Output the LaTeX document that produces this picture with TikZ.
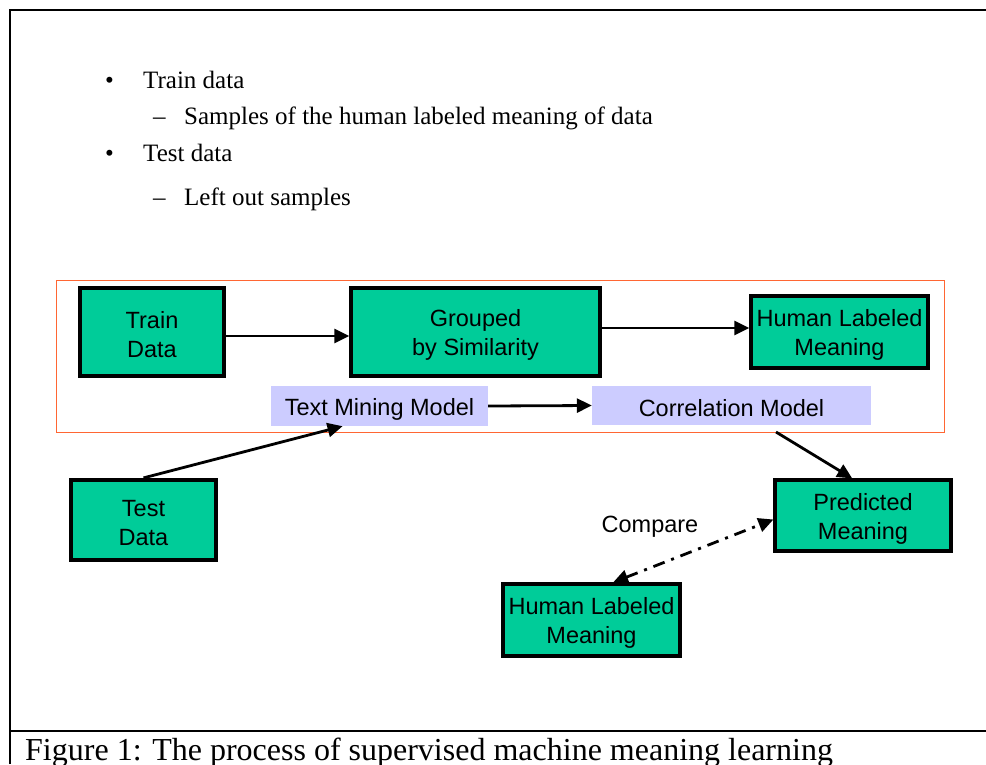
\documentclass[tikz,border=0pt]{standalone}
\usepackage{fontspec}
\setmainfont{Liberation Serif}
\setsansfont{Liberation Sans}
\usetikzlibrary{arrows.meta,calc}
\definecolor{boxgreen}{RGB}{0,204,153}
\definecolor{lav}{RGB}{204,204,255}
\definecolor{redframe}{RGB}{255,102,51}
\newcommand{\tup}{\rule{0pt}{23pt}}
\tikzset{
  sansfont/.style={font=\sffamily\fontsize{23.5}{29}\selectfont},
  gbox/.style={draw=black,fill=boxgreen,inner sep=0pt,align=center,sansfont},
  lbox/.style={fill=lav,inner sep=0pt,align=center,sansfont},
  arr/.style={line width=2.8pt,-{Triangle[length=15pt,width=14pt]}},
  darr/.style={line width=2.8pt,{Triangle[length=15pt,width=14pt]}-{Triangle[length=15pt,width=14pt]},
    dash pattern=on 12pt off 7pt on 3pt off 7pt},
  btext/.style={anchor=base west,inner sep=0pt,font=\rmfamily\fontsize{25}{30}\selectfont},
}
\begin{document}
\begin{tikzpicture}[x=1pt,y=-1pt]
\useasboundingbox (0,0) rectangle (986,764);
% frame
\draw[line width=2.3pt] (10,764) -- (10,10) -- (986,10);
\draw[line width=2.3pt] (10,731) -- (986,731);
\node[btext] (cap) at (25,760) {\fontsize{32}{36}\selectfont Figure 1: The process of supervised machine meaning learning};
% bullets
\node[btext] (b1) at (105,88) {•};
\node[btext] (t1) at (143,88) {Train data};
\node[btext] (d1) at (153,124) {–};
\node[btext] (t2) at (184,124) {Samples of the human labeled meaning of data};
\node[btext] (b2) at (105,161) {•};
\node[btext] (t3) at (143,161) {Test data};
\node[btext] (d2) at (153,205.5) {–};
\node[btext] (t4) at (184,205.5) {Left out samples};
% red frame
\draw[redframe,line width=1pt] (56,280) rectangle (944,432);
% boxes
\node[gbox,line width=4.2pt,minimum width=144pt,minimum height=88pt] (td) at (152,332) {\tup Train\\Data};
\node[gbox,line width=3.2pt,minimum width=249pt,minimum height=88pt] (grp) at (475.5,332) {\tup Grouped\\by Similarity};
\node[gbox,line width=3.2pt,minimum width=177pt,minimum height=72pt] (hl) at (839.5,332) {\tup Human Labeled\\Meaning};
\node[lbox,minimum width=217pt,minimum height=40pt] (tm) at (379.5,406) {\tup Text Mining Model};
\node[lbox,minimum width=279pt,minimum height=39pt] (cm) at (731.5,405.5) {\tup Correlation Model};
\node[gbox,line width=4.2pt,minimum width=145pt,minimum height=80pt] (test) at (143.5,520) {\tup Test\\Data};
\node[gbox,line width=3.2pt,minimum width=176pt,minimum height=71pt] (pred) at (863,515.5) {\tup Predicted\\Meaning};
\node[gbox,line width=3.2pt,minimum width=177pt,minimum height=72pt] (hb) at (591.5,620) {\tup Human Labeled\\Meaning};
\node[inner sep=0pt,sansfont] (cmp) at (650,523) {\tup Compare};
% connectors
\draw[arr] ([yshift=-4pt]td.east) -- ([yshift=-4pt]grp.west);
\draw[arr] ([yshift=4pt]grp.east) -- ([yshift=4pt]hl.west);
\draw[arr] (tm.east) -- (cm.west);
\draw[arr] (test.north) -- ($(tm.south west)!0.33!(tm.south east)$);
\coordinate (c1) at (776,432);
\draw[arr] (c1) -- ($(pred.north west)!0.44!(pred.north east)$);
\draw[darr] ($(hb.north west)!0.62!(hb.north east)$) -- ([yshift=-4pt]pred.west);
\end{tikzpicture}
\end{document}
